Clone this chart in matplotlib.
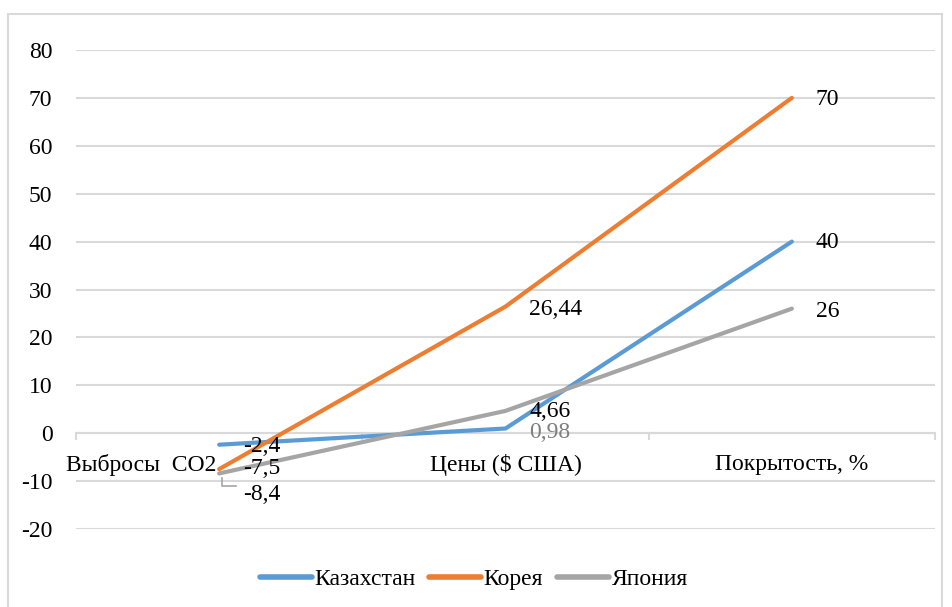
import matplotlib.pyplot as plt
from matplotlib.patches import Rectangle

plt.rcParams['font.family'] = ['Liberation Serif', 'DejaVu Serif']

categories = ['Выбросы  CO2', 'Цены ($ США)', 'Покрытость, %']
kazakhstan = [-2.4, 0.98, 40]
korea = [-7.5, 26.44, 70]
japan = [-8.4, 4.66, 26]
series_names = ['Казахстан', 'Корея', 'Япония']
colors = ['#5B9BD5', '#ED7D31', '#A5A5A5']
FS = 17

fig = plt.figure(figsize=(9.52, 6.07), dpi=100)
ax = fig.add_axes([76 / 952, 1 - 529 / 607, (935 - 76) / 952, (529 - 50) / 607])

# outer frame like the Excel chart area
fig.patches.append(Rectangle((8 / 952, -0.02), (942 - 8) / 952, 1 - 14 / 607 + 0.02,
                             transform=fig.transFigure, fill=False,
                             edgecolor='#D9D9D9', linewidth=1.5))

x = [0.5, 1.5, 2.5]
for vals, name, c in zip([kazakhstan, korea, japan], series_names, colors):
    ax.plot(x, vals, color=c, linewidth=3, solid_capstyle='round', label=name, zorder=3)

ax.set_xlim(0, 3)
ax.set_ylim(-20, 80)
ax.set_yticks(range(-20, 81, 10))
ax.set_yticklabels([str(v) for v in range(-20, 81, 10)], fontsize=FS)
ax.tick_params(axis='y', length=0, pad=17)
ax.set_xticks([])
ax.grid(axis='y', color='#D9D9D9', linewidth=1.5)
ax.set_axisbelow(True)
for s in ax.spines.values():
    s.set_visible(False)

# horizontal axis at 0 with category tick marks
ax.axhline(0, color='#D9D9D9', linewidth=1.5, zorder=1)
for t in [0, 1, 2, 3]:
    ax.plot([t, t], [0, -1.3], color='#D9D9D9', linewidth=1.5, zorder=1, clip_on=False)

# category labels drawn next to the zero line
ax.text(0.5 - 0.01, -6.6, categories[0], ha='right', va='center', fontsize=FS)
ax.text(1.5, -6.6, categories[1], ha='center', va='center', fontsize=FS)
ax.text(2.5, -6.6, categories[2], ha='center', va='center', fontsize=FS)

# data labels
def lab(xv, yv, txt, dy=0, color='black'):
    ax.annotate(txt, (xv, yv), xytext=(24, dy), textcoords='offset pixels',
                ha='left', va='center', fontsize=FS, color=color, zorder=4)

lab(x[0], kazakhstan[0], '-2,4', dy=-2)
lab(x[0], korea[0], '-7,5', dy=1)
lab(x[0], japan[0], '-8,4', dy=-21)
ax.plot([x[0] + 0.01, x[0] + 0.01, x[0] + 0.06], [japan[0] - 0.9, japan[0] - 2.6, japan[0] - 2.6],
        color='#A5A5A5', linewidth=1.2, zorder=2)
lab(x[1], korea[1], '26,44', dy=-3)
lab(x[1], japan[1], '4,66', dy=-1)
lab(x[1], kazakhstan[1], '0,98', dy=-4, color='#7F7F7F')
lab(x[2], korea[2], '70', dy=-2)
lab(x[2], kazakhstan[2], '40', dy=-1)
lab(x[2], japan[2], '26', dy=-3)

leg = ax.legend(loc='center', bbox_to_anchor=(0.463, -0.105), ncol=3, frameon=False,
                fontsize=FS, handlelength=2.2, handletextpad=0.1, columnspacing=0.6)
for h in leg.get_lines():
    h.set_linewidth(4)

plt.savefig('out.png', dpi=100)
plt.close()
